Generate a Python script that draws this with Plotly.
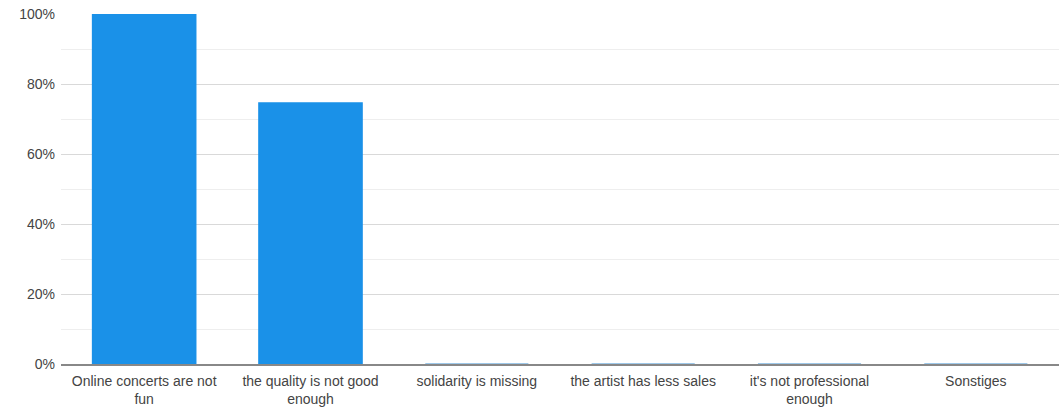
import plotly.graph_objects as go

categories = ["Online concerts are not<br>fun", "the quality is not good<br>enough", "solidarity is missing",
              "the artist has less sales", "it's not professional<br>enough", "Sonstiges"]
values = [1.0, 0.746, 0.0, 0.0, 0.0, 0.0]

line_colors = ["#1a91e8" if v > 0 else "#7fb6e2" for v in values]

fig = go.Figure(go.Bar(
    x=categories, y=values,
    marker=dict(color="#1a91e8", line=dict(color=line_colors, width=1.5)),
    hoverinfo="skip",
))

fig.update_layout(
    width=1059, height=412,
    margin=dict(l=61, r=0, t=14, b=48),
    paper_bgcolor="white", plot_bgcolor="white",
    bargap=0.38,
    showlegend=False,
    font=dict(family="Liberation Sans, Arial, sans-serif", size=14, color="#444444"),
)
fig.update_xaxes(
    showline=True, linecolor="#888888", linewidth=1.5,
    showgrid=False, ticks="", tickfont=dict(size=14, color="#444444"),
    ticklabelstandoff=3,
)
fig.update_yaxes(
    range=[0, 1], dtick=0.2, tickformat=".0%",
    showgrid=True, gridcolor="#d9d9d9", gridwidth=1,
    minor=dict(dtick=0.1, showgrid=True, gridcolor="#eeeeee", gridwidth=1),
    zeroline=False, showline=False, ticks="",
    tickfont=dict(size=14, color="#444444"),
    ticklabelstandoff=5,
)

fig.update_traces(cliponaxis=False)

fig.write_html("out.html")
